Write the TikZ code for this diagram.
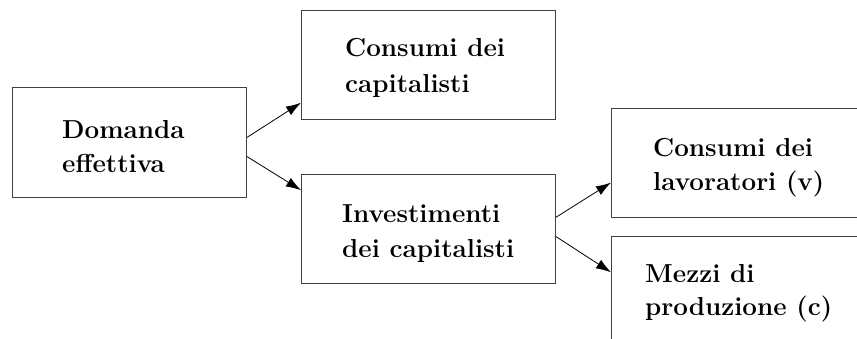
\documentclass[tikz,border=0pt]{standalone}
\usetikzlibrary{arrows.meta,calc}
\begin{document}
\begin{tikzpicture}[x=1pt,y=-1pt,
  box/.style={draw=black!75, line width=0.9pt, rectangle, inner sep=0pt, anchor=north west},
  lbl/.style={anchor=base west, inner sep=0pt, font=\fontsize{26}{30}\selectfont\bfseries},
  link/.style={line width=0.8pt, -{Latex[length=15pt,width=10pt]}}]
\useasboundingbox (0,0) rectangle (857,339);
\clip (0,0) rectangle (857,339);

% boxes
\node[box, minimum width=234pt, minimum height=110pt] (dom) at (12,87) {};
\node[box, minimum width=254pt, minimum height=109pt] (cap) at (301,10) {};
\node[box, minimum width=254pt, minimum height=109pt] (inv) at (301,174) {};
\node[box, minimum width=260pt, minimum height=109pt] (lav) at (611,108) {};
\node[box, minimum width=260pt, minimum height=109pt] (mez) at (611,236) {};

% labels
\node[lbl] (dom1) at (62,139) {Domanda};
\node[lbl] (dom2) at (62,173) {effettiva};
\node[lbl] (cap1) at (345,57) {Consumi dei};
\node[lbl] (cap2) at (345,93) {capitalisti};
\node[lbl] (inv1) at (342,223) {Investimenti};
\node[lbl] (inv2) at (342,258) {dei capitalisti};
\node[lbl] (lav1) at (653,157) {Consumi dei};
\node[lbl] (lav2) at (653,191) {lavoratori (v)};
\node[lbl] (mez1) at (645,283) {Mezzi di};
\node[lbl] (mez2) at (645,316) {produzione (c)};

% connectors
\draw[link] ($(dom.north east)!0.455!(dom.south east)$) -- ($(cap.north west)!0.844!(cap.south west)$);
\draw[link] ($(dom.north east)!0.627!(dom.south east)$) -- ($(inv.north west)!0.147!(inv.south west)$);
\draw[link] ($(inv.north east)!0.394!(inv.south east)$) -- ($(lav.north west)!0.679!(lav.south west)$);
\draw[link] ($(inv.north east)!0.569!(inv.south east)$) -- ($(mez.north west)!0.33!(mez.south west)$);
\end{tikzpicture}
\end{document}
